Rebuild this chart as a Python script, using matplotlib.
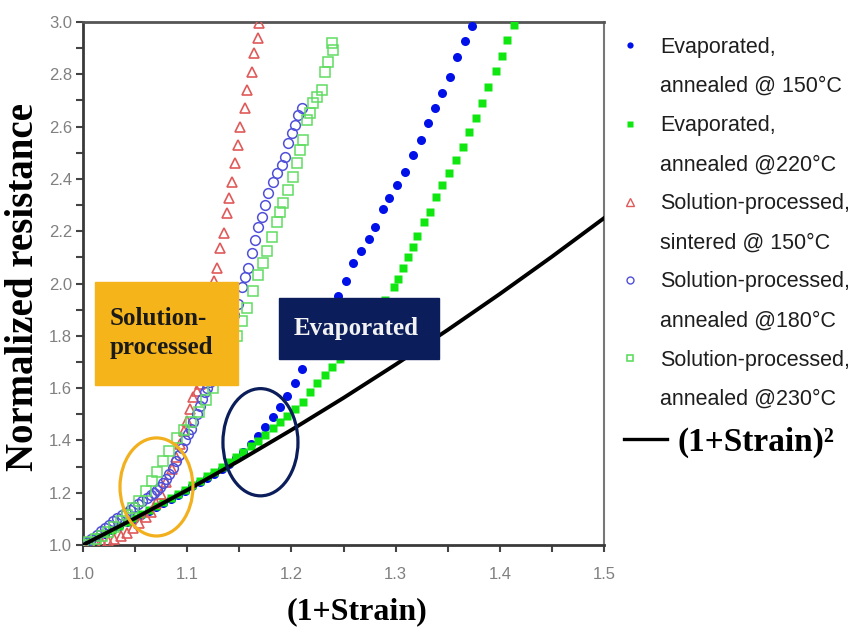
import matplotlib
matplotlib.use('Agg')
import matplotlib.pyplot as plt
from matplotlib.patches import Rectangle, Ellipse
from matplotlib.lines import Line2D
from matplotlib.ticker import MultipleLocator

# Evaporated, annealed @ 150C (filled blue circles)
evap150_x = [1.000, 1.007, 1.014, 1.021, 1.028, 1.035, 1.042, 1.049, 1.056, 1.063,
             1.070, 1.077, 1.084, 1.091, 1.098, 1.105, 1.112, 1.119, 1.126, 1.133,
             1.140, 1.147, 1.154, 1.161, 1.168, 1.175, 1.182, 1.189, 1.196, 1.203,
             1.210, 1.217, 1.224, 1.231, 1.238, 1.245, 1.252, 1.259, 1.267, 1.274,
             1.280, 1.288, 1.294, 1.301, 1.309, 1.317, 1.324, 1.331, 1.338, 1.345,
             1.352, 1.359, 1.367, 1.373]
evap150_y = [1.000, 1.015, 1.029, 1.043, 1.058, 1.072, 1.087, 1.101, 1.116, 1.131,
             1.146, 1.161, 1.177, 1.192, 1.208, 1.224, 1.240, 1.256, 1.273, 1.291,
             1.310, 1.332, 1.357, 1.386, 1.418, 1.452, 1.490, 1.529, 1.570, 1.621,
             1.674, 1.728, 1.788, 1.848, 1.900, 1.954, 2.011, 2.077, 2.123, 2.172,
             2.215, 2.284, 2.326, 2.375, 2.425, 2.490, 2.548, 2.613, 2.670, 2.728,
             2.789, 2.866, 2.927, 2.985]

# Evaporated, annealed @ 220C (filled green squares)
evap220_x = [1.000, 1.007, 1.014, 1.021, 1.028, 1.035, 1.042, 1.049, 1.056, 1.063,
             1.070, 1.077, 1.084, 1.091, 1.098, 1.105, 1.112, 1.119, 1.126, 1.133,
             1.140, 1.147, 1.154, 1.161, 1.168, 1.175, 1.182, 1.189, 1.196, 1.203,
             1.211, 1.218, 1.225, 1.232, 1.239, 1.247, 1.255, 1.262, 1.269, 1.276,
             1.283, 1.290, 1.298, 1.302, 1.307, 1.312, 1.317, 1.321, 1.327, 1.333,
             1.339, 1.345, 1.351, 1.358, 1.365, 1.370, 1.377, 1.383, 1.389, 1.396,
             1.402, 1.407, 1.414]
evap220_y = [1.000, 1.015, 1.029, 1.044, 1.058, 1.073, 1.088, 1.103, 1.118, 1.133,
             1.149, 1.164, 1.180, 1.196, 1.212, 1.228, 1.245, 1.262, 1.279, 1.297,
             1.316, 1.336, 1.357, 1.377, 1.398, 1.422, 1.446, 1.470, 1.495, 1.520,
             1.545, 1.585, 1.620, 1.650, 1.681, 1.713, 1.750, 1.787, 1.820, 1.857,
             1.896, 1.938, 1.985, 2.019, 2.061, 2.100, 2.138, 2.180, 2.234, 2.272,
             2.330, 2.375, 2.421, 2.471, 2.521, 2.579, 2.632, 2.690, 2.751, 2.812,
             2.870, 2.931, 2.989]

# Solution-processed, sintered @ 150C (open red triangles)
sint150_x = [1.000, 1.006, 1.012, 1.018, 1.024, 1.030, 1.036, 1.042, 1.048, 1.054,
             1.060, 1.065, 1.070, 1.075, 1.080, 1.085, 1.089, 1.093, 1.097, 1.100,
             1.103, 1.106, 1.109, 1.112, 1.114, 1.117, 1.119, 1.121, 1.123, 1.126,
             1.129, 1.131, 1.135, 1.138, 1.140, 1.143, 1.146, 1.149, 1.151, 1.155,
             1.157, 1.162, 1.164, 1.168, 1.169]
sint150_y = [1.000, 1.001, 1.004, 1.009, 1.015, 1.023, 1.034, 1.047, 1.066, 1.086,
             1.106, 1.128, 1.160, 1.196, 1.240, 1.290, 1.335, 1.385, 1.435, 1.475,
             1.520, 1.565, 1.590, 1.617, 1.680, 1.740, 1.800, 1.860, 1.930, 2.011,
             2.061, 2.134, 2.192, 2.268, 2.326, 2.387, 2.460, 2.529, 2.598, 2.670,
             2.739, 2.808, 2.881, 2.939, 2.996]

# Solution-processed, annealed @ 180C (open blue circles)
sol180_x = [1.000, 1.004, 1.008, 1.013, 1.017, 1.021, 1.025, 1.029, 1.033, 1.037,
            1.041, 1.045, 1.049, 1.053, 1.057, 1.061, 1.065, 1.068, 1.071, 1.074,
            1.077, 1.080, 1.083, 1.086, 1.089, 1.092, 1.095, 1.098, 1.101, 1.104,
            1.106, 1.109, 1.112, 1.114, 1.117, 1.119, 1.122, 1.126, 1.129, 1.133,
            1.137, 1.141, 1.145, 1.149, 1.153, 1.155, 1.158, 1.162, 1.165, 1.168,
            1.172, 1.175, 1.178, 1.182, 1.186, 1.191, 1.194, 1.197, 1.201, 1.203,
            1.206, 1.210]
sol180_y = [1.000, 1.012, 1.024, 1.040, 1.052, 1.064, 1.076, 1.090, 1.102, 1.114,
            1.124, 1.135, 1.146, 1.157, 1.168, 1.178, 1.190, 1.200, 1.210, 1.222,
            1.236, 1.252, 1.270, 1.295, 1.320, 1.345, 1.372, 1.400, 1.425, 1.445,
            1.470, 1.500, 1.530, 1.558, 1.585, 1.602, 1.625, 1.660, 1.700, 1.740,
            1.790, 1.830, 1.880, 1.923, 1.985, 2.023, 2.061, 2.115, 2.165, 2.215,
            2.253, 2.299, 2.345, 2.387, 2.421, 2.452, 2.483, 2.536, 2.575, 2.605,
            2.644, 2.670]

# Solution-processed, annealed @ 230C (open green squares)
sol230_x = [1.000, 1.006, 1.012, 1.018, 1.024, 1.030, 1.036, 1.042, 1.048, 1.054,
            1.060, 1.066, 1.071, 1.077, 1.083, 1.090, 1.097, 1.104, 1.111, 1.118,
            1.125, 1.131, 1.137, 1.143, 1.148, 1.153, 1.157, 1.163, 1.168, 1.173,
            1.177, 1.181, 1.186, 1.189, 1.192, 1.197, 1.202, 1.205, 1.208, 1.211,
            1.215, 1.218, 1.221, 1.225, 1.229, 1.232, 1.235, 1.239, 1.240]
sol230_y = [1.000, 1.010, 1.022, 1.035, 1.050, 1.070, 1.090, 1.115, 1.140, 1.170,
            1.205, 1.245, 1.280, 1.320, 1.360, 1.410, 1.440, 1.470, 1.510, 1.555,
            1.600, 1.650, 1.700, 1.750, 1.800, 1.858, 1.908, 1.973, 2.031, 2.077,
            2.126, 2.176, 2.234, 2.272, 2.307, 2.356, 2.406, 2.460, 2.510, 2.548,
            2.625, 2.651, 2.690, 2.713, 2.739, 2.808, 2.847, 2.920, 2.893]

# (1+Strain)^2 reference curve
ref_x = [1.00, 1.05, 1.10, 1.15, 1.20, 1.25, 1.30, 1.35, 1.40, 1.45, 1.50]
ref_y = [1.0000, 1.1025, 1.2100, 1.3225, 1.4400, 1.5625, 1.6900, 1.8225, 1.9600, 2.1025, 2.2500]

xticks = [1.0, 1.1, 1.2, 1.3, 1.4, 1.5]
xtick_labels = ['1.0', '1.1', '1.2', '1.3', '1.4', '1.5']
yticks = [1.0, 1.2, 1.4, 1.6, 1.8, 2.0, 2.2, 2.4, 2.6, 2.8, 3.0]
ytick_labels = ['1.0', '1.2', '1.4', '1.6', '1.8', '2.0', '2.2', '2.4', '2.6', '2.8', '3.0']

legend_labels = [
	('Evaporated,', 'annealed @ 150°C'),
	('Evaporated,', 'annealed @220°C'),
	('Solution-processed,', 'sintered @ 150°C'),
	('Solution-processed,', 'annealed @180°C'),
	('Solution-processed,', 'annealed @230°C'),
]

BLUE = '#0010e8'
GREEN = '#10e610'
RED = '#e05a5a'
OBLUE = '#5050d8'
OGREEN = '#60dd60'
NAVY = '#0b1d5a'
ORANGE = '#f5b41a'

def main():
	plt.rcParams['font.family'] = ['Liberation Sans', 'DejaVu Sans']
	fig = plt.figure(figsize=(8.52, 6.35), dpi=100)
	ax = fig.add_axes([83/852, 1-545/635, 521/852, 523/635])

	ax.plot(evap150_x, evap150_y, 'o', color=BLUE, ms=6.5, mec='none', zorder=3)
	ax.plot(evap220_x, evap220_y, 's', color=GREEN, ms=5.5, mec='none', zorder=3)
	ax.plot(sint150_x, sint150_y, '^', mfc='none', mec=RED, ms=7.5, mew=1.2, zorder=3)
	ax.plot(sol180_x, sol180_y, 'o', mfc='none', mec=OBLUE, ms=7, mew=1.1, zorder=3)
	ax.plot(sol230_x, sol230_y, 's', mfc='none', mec=OGREEN, ms=6.5, mew=1.1, zorder=3)
	ax.plot(ref_x, ref_y, '-', color='black', lw=2.8, zorder=4)

	ax.set_xlim(1.0, 1.5)
	ax.set_ylim(1.0, 3.0)
	ax.set_xticks(xticks)
	ax.set_xticklabels(xtick_labels)
	ax.set_yticks(yticks)
	ax.set_yticklabels(ytick_labels)
	ax.xaxis.set_minor_locator(MultipleLocator(0.05))
	ax.yaxis.set_minor_locator(MultipleLocator(0.1))
	ax.tick_params(which='both', direction='out', length=5, width=1.5, color='#444444')
	ax.tick_params(axis='x', pad=11, labelsize=12, labelcolor='#808080')
	ax.tick_params(axis='y', pad=3, labelsize=12, labelcolor='#808080')
	for s in ['left', 'bottom']:
		ax.spines[s].set_color('#3a3a3a')
		ax.spines[s].set_linewidth(2)
	ax.spines['top'].set_color('#555555')
	ax.spines['top'].set_linewidth(2)
	ax.spines['right'].set_color('#777777')
	ax.spines['right'].set_linewidth(1.5)

	# annotation boxes and circles
	ax.add_patch(Rectangle((1.0115, 1.613), 0.1375, 0.391, color=ORANGE, zorder=6))
	ax.text(1.026, 1.81, 'Solution-\nprocessed', ha='left', va='center', fontsize=18,
		family='Liberation Serif', weight='bold', color='#1a1a1a', linespacing=1.3, zorder=7)
	ax.add_patch(Rectangle((1.188, 1.713), 0.154, 0.233, color=NAVY, zorder=6))
	ax.text(1.262, 1.828, 'Evaporated', ha='center', va='center', fontsize=18,
		family='Liberation Serif', weight='bold', color='#f2f2f2', zorder=7)
	ax.add_patch(Ellipse((1.0705, 1.222), 0.070, 0.375, fill=False, ec='#f2b01e', lw=2.3, zorder=6))
	ax.add_patch(Ellipse((1.1703, 1.393), 0.072, 0.41, fill=False, ec=NAVY, lw=2.3, zorder=6))

	# legend: marker on the first line of each two-line label
	styles = [
		dict(marker='o', color=BLUE, mec='none', ms=4.5),
		dict(marker='s', color=GREEN, mec='none', ms=4),
		dict(marker='^', mfc='none', mec=RED, ms=5.5, mew=1),
		dict(marker='o', mfc='none', mec=OBLUE, ms=5, mew=1),
		dict(marker='s', mfc='none', mec=OGREEN, ms=4.5, mew=1.2),
	]
	handles = []
	labels = []
	for st, (l1, l2) in zip(styles, legend_labels):
		handles.append(Line2D([], [], ls='none', **st))
		labels.append(l1)
		handles.append(Line2D([], [], ls='none', marker=''))
		labels.append(l2)
	leg1 = ax.legend(handles, labels, loc='upper left', bbox_to_anchor=(608/852, 1-37/635),
		bbox_transform=fig.transFigure, frameon=False, prop={'family': 'Liberation Sans', 'size': 15.5},
		handlelength=2.0, handletextpad=0.42, labelspacing=0.84, borderpad=0, borderaxespad=0)
	for t in leg1.get_texts():
		t.set_color('#1e1e1e')
	ax.add_artist(leg1)
	ax.legend([Line2D([], [], color='black', lw=2.4)], ['(1+Strain)²'], loc='center left',
		bbox_to_anchor=(624/852, 1-442/635), bbox_transform=fig.transFigure, frameon=False,
		prop={'family': 'Liberation Serif', 'weight': 'bold', 'size': 24},
		handlelength=1.3, handletextpad=0.3, borderpad=0, borderaxespad=0)

	fig.text(357/852, 1-612/635, '(1+Strain)', ha='center', va='center', fontsize=23,
		family='Liberation Serif', weight='bold')
	fig.text(24/852, 1-287/635, 'Normalized resistance', rotation=90, ha='center', va='center',
		fontsize=28, family='Liberation Serif', weight='bold')

	fig.savefig('out.png', dpi=100)

if __name__ == "__main__":
	main()
